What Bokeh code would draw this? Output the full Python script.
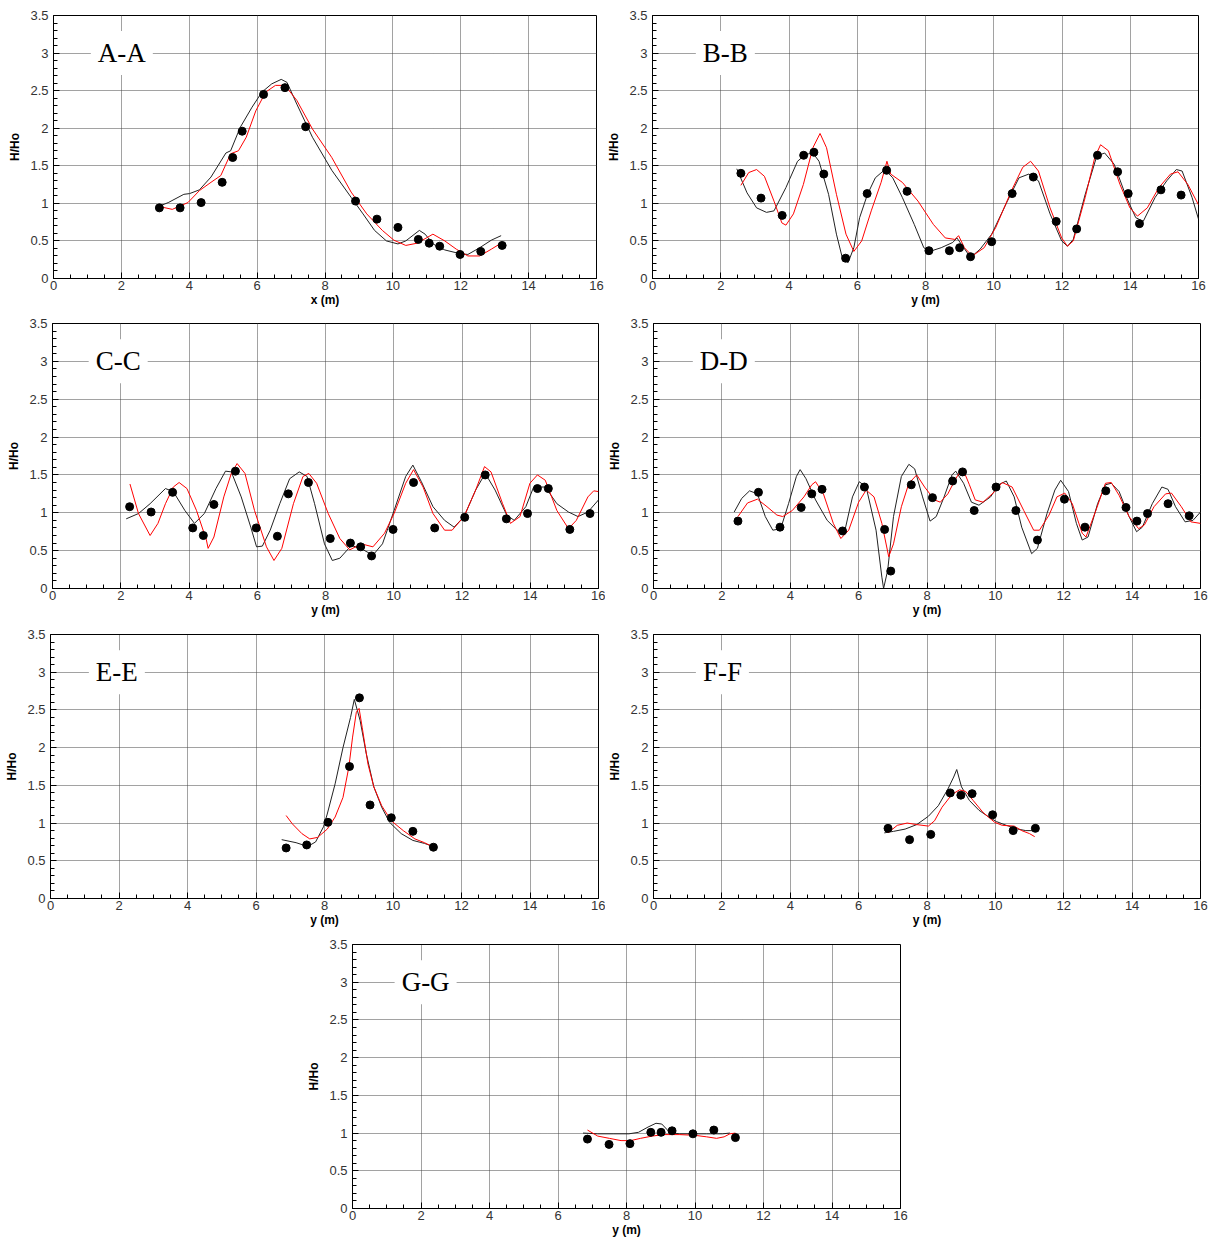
from bokeh.plotting import figure
from bokeh.models import Range1d, FixedTicker, Label, Spacer
from bokeh.layouts import row, column
from bokeh.embed import file_html
from bokeh.resources import INLINE

# ---- axes ticks ----
X_TICKS = [0, 2, 4, 6, 8, 10, 12, 14, 16]
X_MINOR = [0.5, 1, 1.5, 2.5, 3, 3.5, 4.5, 5, 5.5, 6.5, 7, 7.5, 8.5, 9, 9.5,
           10.5, 11, 11.5, 12.5, 13, 13.5, 14.5, 15, 15.5]
Y_TICKS = [0, 0.5, 1, 1.5, 2, 2.5, 3, 3.5]
Y_MINOR = [0.1, 0.2, 0.3, 0.4, 0.6, 0.7, 0.8, 0.9, 1.1, 1.2, 1.3, 1.4,
           1.6, 1.7, 1.8, 1.9, 2.1, 2.2, 2.3, 2.4, 2.6, 2.7, 2.8, 2.9,
           3.1, 3.2, 3.3, 3.4]

# ---- section A-A ----
aa_obs_x = [3.12, 3.73, 4.35, 4.97, 5.28, 5.56, 6.19, 6.82, 7.43, 8.90, 9.53,
            10.15, 10.75, 11.07, 11.38, 11.98, 12.59, 13.22]
aa_obs_y = [0.94, 0.94, 1.01, 1.28, 1.61, 1.96, 2.45, 2.54, 2.02, 1.03, 0.79,
            0.68, 0.52, 0.47, 0.43, 0.32, 0.36, 0.44]
aa_m1_x = [3.10, 3.38, 3.84, 4.01, 4.30, 4.64, 5.08, 5.22, 5.50, 5.85, 6.14,
           6.43, 6.71, 6.88, 7.17, 7.63, 8.20, 8.77, 9.12, 9.46, 9.81, 10.15,
           10.38, 10.78, 10.95, 11.18, 11.53, 11.98, 12.21, 12.56, 12.90, 13.19]
aa_m1_y = [0.96, 1.01, 1.12, 1.13, 1.18, 1.35, 1.67, 1.70, 2.01, 2.28, 2.48,
           2.59, 2.65, 2.61, 2.32, 1.88, 1.44, 1.08, 0.86, 0.64, 0.50, 0.46,
           0.50, 0.64, 0.59, 0.46, 0.38, 0.33, 0.32, 0.41, 0.51, 0.57]
aa_m2_x = [3.10, 3.50, 3.96, 4.30, 4.64, 4.93, 5.22, 5.45, 5.68, 5.96, 6.25,
           6.54, 6.82, 7.17, 7.63, 8.20, 8.77, 9.23, 9.69, 10.03, 10.38, 10.72,
           11.18, 11.53, 11.87, 12.21, 12.56, 12.90, 13.19]
aa_m2_y = [0.96, 0.92, 1.01, 1.17, 1.28, 1.37, 1.66, 1.70, 1.88, 2.23, 2.48,
           2.57, 2.57, 2.37, 1.99, 1.61, 1.15, 0.86, 0.64, 0.51, 0.44, 0.47,
           0.59, 0.50, 0.39, 0.30, 0.30, 0.39, 0.47]

# ---- section B-B ----
bb_obs_x = [2.59, 3.18, 3.80, 4.43, 4.73, 5.02, 5.66, 6.29, 6.86, 7.46, 8.10,
            8.70, 9.00, 9.32, 9.94, 10.54, 11.16, 11.83, 12.43, 13.04, 13.63,
            13.94, 14.27, 14.90, 15.49]
bb_obs_y = [1.40, 1.07, 0.84, 1.64, 1.68, 1.39, 0.27, 1.13, 1.44, 1.16, 0.37,
            0.37, 0.41, 0.29, 0.49, 1.13, 1.35, 0.76, 0.66, 1.64, 1.42,
            1.13, 0.73, 1.18, 1.11]
bb_m1_x = [2.47, 2.77, 3.05, 3.34, 3.56, 3.91, 4.25, 4.48, 4.70, 4.88, 5.16,
           5.39, 5.56, 5.73, 5.90, 6.07, 6.30, 6.53, 6.81, 7.04, 7.32, 7.67,
           7.95, 8.12, 8.46, 8.80, 8.92, 9.09, 9.32, 9.60, 9.94, 10.40, 10.74,
           11.03, 11.31, 11.65, 11.99, 12.16, 12.33, 12.68, 13.02, 13.25,
           13.53, 13.87, 14.16, 14.38, 14.73, 15.07, 15.35, 15.52, 15.81, 16.0]
bb_m1_y = [1.46, 1.14, 0.94, 0.88, 0.90, 1.21, 1.56, 1.65, 1.67, 1.56, 1.12,
           0.59, 0.28, 0.21, 0.41, 0.81, 1.12, 1.34, 1.45, 1.34, 1.08, 0.72,
           0.41, 0.36, 0.41, 0.48, 0.54, 0.43, 0.28, 0.39, 0.59, 1.03, 1.34,
           1.39, 1.30, 0.86, 0.50, 0.43, 0.52, 1.12, 1.63, 1.67,
           1.52, 1.10, 0.81, 0.76, 1.08, 1.30, 1.45, 1.43, 1.08, 0.79]
bb_m2_x = [2.59, 2.82, 3.05, 3.28, 3.56, 3.79, 3.91, 4.13, 4.42, 4.70, 4.91,
           5.10, 5.39, 5.67, 5.90, 6.13, 6.41, 6.70, 6.87, 6.98, 7.32, 7.78,
           8.23, 8.58, 8.86, 8.97, 9.14, 9.37, 9.72, 10.06, 10.52, 10.85,
           11.08, 11.31, 11.65, 11.99, 12.16, 12.33, 12.68, 12.96, 13.13,
           13.36, 13.70, 13.99, 14.21, 14.50, 14.84, 15.18, 15.40, 15.69, 16.0]
bb_m2_y = [1.24, 1.41, 1.45, 1.36, 1.03, 0.74, 0.71, 0.86, 1.25, 1.74, 1.93,
           1.74, 1.12, 0.59, 0.36, 0.50, 0.90, 1.28, 1.56, 1.39, 1.28, 1.03,
           0.72, 0.54, 0.52, 0.57, 0.41, 0.30, 0.41, 0.68, 1.17, 1.48,
           1.56, 1.43, 0.94, 0.54, 0.43, 0.50, 1.08, 1.61, 1.78,
           1.70, 1.25, 0.94, 0.83, 0.94, 1.21, 1.39, 1.42, 1.25, 0.98]

# ---- section C-C ----
cc_obs_x = [2.26, 2.89, 3.52, 4.11, 4.42, 4.73, 5.36, 5.97, 6.59, 6.91, 7.50,
            8.14, 8.73, 9.03, 9.35, 9.98, 10.58, 11.20, 12.08, 12.68, 13.30,
            13.92, 14.21, 14.53, 15.16, 15.75]
cc_obs_y = [1.08, 1.01, 1.27, 0.80, 0.70, 1.11, 1.55, 0.80, 0.69, 1.25, 1.40,
            0.66, 0.60, 0.55, 0.43, 0.78, 1.40, 0.80, 0.94, 1.50, 0.92,
            0.99, 1.32, 1.32, 0.78, 0.99]
cc_m1_x = [2.16, 2.52, 2.86, 3.31, 3.54, 3.88, 4.16, 4.45, 4.79, 5.07, 5.24,
           5.53, 5.81, 5.98, 6.15, 6.38, 6.66, 6.95, 7.23, 7.46, 7.68, 7.97,
           8.20, 8.42, 8.76, 9.11, 9.39, 9.67, 10.01, 10.35, 10.56, 10.81,
           11.15, 11.49, 11.77, 12.06, 12.40, 12.68, 12.97, 13.31, 13.53,
           13.87, 14.10, 14.44, 14.78, 15.12, 15.40, 15.69, 16.0]
cc_m1_y = [0.92, 0.99, 1.12, 1.32, 1.28, 1.03, 0.86, 0.99, 1.32, 1.55, 1.54,
           1.21, 0.81, 0.55, 0.56, 0.77, 1.12, 1.45, 1.54, 1.48, 1.12, 0.59,
           0.37, 0.40, 0.57, 0.51, 0.44, 0.59, 1.03, 1.48, 1.63, 1.41,
           1.08, 0.90, 0.81, 0.95, 1.30, 1.52, 1.30, 0.97, 0.90,
           1.08, 1.34, 1.34, 1.12, 1.01, 0.95, 1.01, 1.17]
cc_m2_x = [2.27, 2.52, 2.86, 3.09, 3.31, 3.54, 3.71, 3.94, 4.22, 4.51, 4.56,
           4.73, 5.02, 5.24, 5.41, 5.64, 5.92, 6.27, 6.49, 6.72, 7.06, 7.34,
           7.51, 7.74, 8.08, 8.42, 8.71, 9.05, 9.39, 9.73, 10.01, 10.35,
           10.58, 10.86, 11.15, 11.49, 11.71, 12.06, 12.40, 12.66, 12.85,
           13.19, 13.42, 13.70, 13.99, 14.21, 14.44, 14.78, 15.12, 15.35,
           15.69, 15.86, 16.0]
cc_m2_y = [1.38, 0.99, 0.70, 0.86, 1.12, 1.34, 1.40, 1.32, 1.03, 0.64, 0.53,
           0.68, 1.21, 1.52, 1.65, 1.52, 1.03, 0.55, 0.37, 0.53, 1.12, 1.48,
           1.52, 1.39, 0.99, 0.66, 0.51, 0.59, 0.55, 0.73, 0.99, 1.39,
           1.57, 1.34, 0.99, 0.77, 0.77, 0.95, 1.30, 1.61, 1.54,
           1.12, 0.86, 0.95, 1.39, 1.50, 1.43, 1.03, 0.79, 0.90,
           1.21, 1.29, 1.28]

# ---- section D-D ----
dd_obs_x = [2.47, 3.07, 3.70, 4.32, 4.63, 4.93, 5.53, 6.17, 6.76, 6.94, 7.54,
            8.16, 8.75, 9.04, 9.38, 10.02, 10.60, 11.23, 12.02, 12.62, 13.23,
            13.82, 14.14, 14.45, 15.05, 15.67]
dd_obs_y = [0.89, 1.27, 0.81, 1.07, 1.25, 1.31, 0.76, 1.34, 0.78, 0.23, 1.37,
            1.20, 1.42, 1.54, 1.03, 1.34, 1.03, 0.64, 1.18, 0.81, 1.29,
            1.07, 0.89, 0.99, 1.12, 0.96]
dd_m1_x = [2.36, 2.58, 2.81, 3.04, 3.27, 3.49, 3.72, 3.95, 4.18, 4.29, 4.46,
           4.74, 5.08, 5.37, 5.60, 5.82, 6.02, 6.22, 6.51, 6.68, 6.73, 6.85,
           7.02, 7.25, 7.47, 7.64, 7.87, 8.09, 8.27, 8.50, 8.73, 8.84, 9.07,
           9.30, 9.52, 9.86, 10.09, 10.32, 10.55, 10.77, 11.06, 11.23, 11.51,
           11.74, 11.91, 12.14, 12.37, 12.54, 12.71, 12.99, 13.22, 13.39,
           13.62, 13.91, 14.13, 14.30, 14.59, 14.87, 15.05, 15.27, 15.55,
           15.78, 16.0]
dd_m1_y = [1.01, 1.19, 1.29, 1.25, 0.95, 0.77, 0.79, 1.12, 1.48, 1.57, 1.45,
           1.17, 0.90, 0.77, 0.77, 1.21, 1.41, 1.34, 0.77, 0.15, 0.0, 0.24,
           0.95, 1.48, 1.64, 1.58, 1.21, 0.89, 0.95, 1.21, 1.50, 1.55, 1.39,
           1.14, 1.10, 1.21, 1.37, 1.42, 1.21, 0.81, 0.46, 0.53, 0.99,
           1.30, 1.43, 1.28, 0.86, 0.64, 0.68, 1.12, 1.37, 1.39,
           1.28, 0.95, 0.75, 0.81, 1.12, 1.34, 1.31, 1.08, 0.88,
           0.90, 1.01]
dd_m2_x = [2.47, 2.75, 3.04, 3.32, 3.61, 3.78, 4.06, 4.40, 4.63, 4.74, 4.97,
           5.26, 5.48, 5.71, 6.00, 6.22, 6.45, 6.68, 6.88, 7.02, 7.25, 7.47,
           7.70, 7.93, 8.22, 8.39, 8.61, 8.84, 9.04, 9.24, 9.41, 9.64, 9.98,
           10.20, 10.49, 10.83, 11.12, 11.29, 11.57, 11.80, 12.03, 12.25,
           12.54, 12.65, 12.94, 13.22, 13.39, 13.62, 13.91, 14.19, 14.36,
           14.64, 14.98, 15.15, 15.44, 15.72, 16.0]
dd_m2_y = [0.95, 1.13, 1.18, 1.08, 0.97, 0.95, 1.03, 1.21, 1.37, 1.41, 1.25,
           0.86, 0.66, 0.77, 1.14, 1.30, 1.21, 0.86, 0.42, 0.59, 1.08, 1.39,
           1.50, 1.34, 1.17, 1.14, 1.25, 1.45, 1.59, 1.37, 1.17, 1.14, 1.28,
           1.40, 1.34, 1.03, 0.77, 0.77, 0.97, 1.21, 1.26, 1.12,
           0.73, 0.68, 1.03, 1.39, 1.40, 1.23, 0.95, 0.79, 0.84,
           1.08, 1.25, 1.26, 1.08, 0.88, 0.86]

# ---- section E-E ----
ee_obs_x = [6.88, 7.48, 8.10, 8.73, 9.02, 9.33, 9.95, 10.58, 11.18]
ee_obs_y = [0.67, 0.71, 1.01, 1.75, 2.66, 1.24, 1.07, 0.89, 0.68]
ee_m1_x = [6.75, 7.17, 7.51, 7.74, 7.97, 8.08, 8.31, 8.54, 8.76, 8.87, 9.04,
           9.22, 9.44, 9.67, 9.90, 10.24, 10.58, 10.92, 11.18]
ee_m1_y = [0.78, 0.74, 0.69, 0.75, 0.95, 1.12, 1.52, 2.00, 2.40, 2.64, 2.36,
           1.92, 1.48, 1.21, 1.01, 0.86, 0.77, 0.73, 0.69]
ee_m2_x = [6.88, 7.06, 7.34, 7.57, 7.80, 8.08, 8.31, 8.54, 8.71, 8.82, 8.93,
           9.01, 9.10, 9.27, 9.44, 9.67, 9.95, 10.30, 10.64, 10.92, 11.18]
ee_m2_y = [1.10, 0.99, 0.86, 0.79, 0.81, 0.92, 1.08, 1.34, 1.74, 2.14, 2.47,
           2.52, 2.27, 1.78, 1.48, 1.23, 1.03, 0.90, 0.79, 0.74, 0.68]

# ---- section F-F ----
ff_obs_x = [6.86, 7.49, 8.11, 8.68, 8.99, 9.32, 9.92, 10.52, 11.17]
ff_obs_y = [0.93, 0.78, 0.85, 1.40, 1.37, 1.39, 1.11, 0.90, 0.93]
ff_m1_x = [6.75, 7.02, 7.36, 7.70, 8.04, 8.33, 8.61, 8.78, 8.87, 9.01, 9.24,
           9.52, 9.81, 10.03, 10.32, 10.66, 10.89, 11.11]
ff_m1_y = [0.87, 0.89, 0.92, 0.98, 1.09, 1.23, 1.45, 1.61, 1.71, 1.48, 1.30,
           1.17, 1.08, 1.02, 0.97, 0.92, 0.90, 0.90]
ff_m2_x = [6.86, 7.13, 7.42, 7.70, 8.04, 8.22, 8.44, 8.73, 8.95, 9.13, 9.35,
           9.64, 9.98, 10.20, 10.55, 10.77, 11.00, 11.15]
ff_m2_y = [0.87, 0.97, 1.00, 0.98, 0.96, 1.03, 1.21, 1.38, 1.44, 1.42, 1.30,
           1.14, 1.01, 0.97, 0.96, 0.90, 0.86, 0.82]

# ---- section G-G ----
gg_obs_x = [6.86, 7.49, 8.10, 8.71, 9.01, 9.33, 9.94, 10.55, 11.18]
gg_obs_y = [0.92, 0.85, 0.86, 1.01, 1.01, 1.03, 0.99, 1.04, 0.94]
gg_m1_x = [6.73, 7.16, 7.61, 8.07, 8.35, 8.63, 8.86, 9.03, 9.26, 9.54, 9.89,
           10.34, 10.80, 11.02]
gg_m1_y = [1.00, 0.99, 0.99, 0.99, 1.01, 1.08, 1.13, 1.12, 1.01, 0.99, 0.99,
           0.99, 0.99, 1.00]
gg_m2_x = [6.86, 7.16, 7.50, 7.84, 8.12, 8.41, 8.75, 9.09, 9.54, 10.00, 10.34,
           10.63, 10.85, 11.02, 11.18]
gg_m2_y = [1.04, 0.96, 0.93, 0.90, 0.90, 0.93, 0.96, 0.98, 0.98, 0.97, 0.95,
           0.93, 0.95, 0.99, 1.00]

SANS = "Liberation Sans"
SERIF = "Liberation Serif"


def panel(name, xlabel, obs_x, obs_y, m1_x, m1_y, m2_x, m2_y,
          fw, fh, left, right, top, bottom, label_x):
    p = figure(frame_width=fw, frame_height=fh,
               min_border_left=left, min_border_right=right,
               min_border_top=top, min_border_bottom=bottom,
               x_range=Range1d(0, 16), y_range=Range1d(0, 3.5),
               output_backend="svg", toolbar_location=None, tools="",
               background_fill_color="white", border_fill_color="white")
    p.outline_line_color = "black"
    p.outline_line_width = 1

    p.xaxis.ticker = FixedTicker(ticks=X_TICKS, minor_ticks=X_MINOR)
    p.yaxis.ticker = FixedTicker(ticks=Y_TICKS, minor_ticks=Y_MINOR)
    p.xgrid.ticker = FixedTicker(ticks=X_TICKS)
    p.ygrid.ticker = FixedTicker(ticks=Y_TICKS)
    p.grid.grid_line_color = "#444444"
    p.grid.grid_line_dash = "1 1"
    p.grid.grid_line_width = 1

    for ax in (p.xaxis, p.yaxis):
        ax.axis_line_color = "black"
        ax.major_tick_in = 6
        ax.major_tick_out = 0
        ax.minor_tick_in = 4
        ax.minor_tick_out = 0
        ax.major_tick_line_color = "black"
        ax.minor_tick_line_color = "black"
        ax.major_label_text_font = SANS
        ax.major_label_text_font_size = "13px"
        ax.major_label_text_color = "#333333"
        ax.axis_label_text_font = SANS
        ax.axis_label_text_font_size = "12px"
        ax.axis_label_text_font_style = "bold"
        ax.axis_label_text_color = "black"
    p.xaxis.axis_label = xlabel
    p.yaxis.axis_label = "H/Ho"
    p.xaxis.major_label_standoff = 2
    p.xaxis.axis_label_standoff = 0
    p.yaxis.major_label_standoff = 5
    p.yaxis.axis_label_standoff = 5

    p.line(m1_x, m1_y, line_color="#222222", line_width=1)
    p.line(m2_x, m2_y, line_color="#ff0000", line_width=1)
    p.scatter(obs_x, obs_y, size=8, fill_color="black", line_color="black")

    p.add_layout(Label(x=label_x, y=3, text=name, text_font=SERIF,
                       text_font_size="27px", text_color="black",
                       text_baseline="middle", text_align="left",
                       background_fill_color="white", padding=7))
    return p


pa = panel("A-A", "x (m)", aa_obs_x, aa_obs_y, aa_m1_x, aa_m1_y, aa_m2_x, aa_m2_y,
           543, 263, 53, 8, 15, 32, 1.1)
pb = panel("B-B", "y (m)", bb_obs_x, bb_obs_y, bb_m1_x, bb_m1_y, bb_m2_x, bb_m2_y,
           546, 263, 47, 18, 14, 33, 1.27)
pc = panel("C-C", "y (m)", cc_obs_x, cc_obs_y, cc_m1_x, cc_m1_y, cc_m2_x, cc_m2_y,
           546, 265, 52, 7, 13, 32, 1.06)
pd = panel("D-D", "y (m)", dd_obs_x, dd_obs_y, dd_m1_x, dd_m1_y, dd_m2_x, dd_m2_y,
           547, 265, 47, 16, 13, 32, 1.15)
pe = panel("E-E", "y (m)", ee_obs_x, ee_obs_y, ee_m1_x, ee_m1_y, ee_m2_x, ee_m2_y,
           548, 264, 50, 7, 14, 32, 1.12)
pf = panel("F-F", "y (m)", ff_obs_x, ff_obs_y, ff_m1_x, ff_m1_y, ff_m2_x, ff_m2_y,
           547, 264, 47, 16, 14, 32, 1.24)
pg = panel("G-G", "y (m)", gg_obs_x, gg_obs_y, gg_m1_x, gg_m1_y, gg_m2_x, gg_m2_y,
           548, 264, 47, 20, 14, 29, 1.23)

layout = column(
    row(pa, pb),
    row(pc, pd),
    row(pe, pf),
    row(Spacer(width=304, height=307), pg),
)

open("out.html", "w").write(file_html(layout, INLINE))
